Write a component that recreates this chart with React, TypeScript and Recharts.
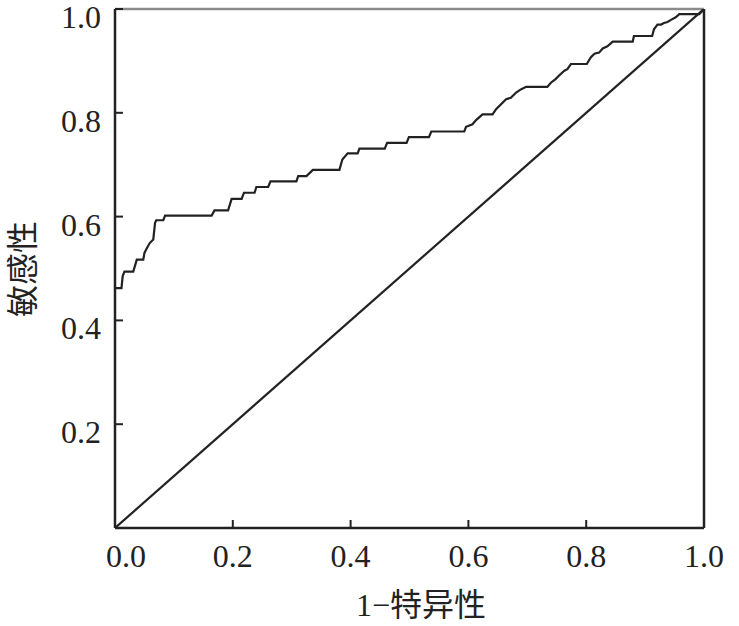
import { LineChart, Line, XAxis, YAxis, ReferenceLine, Label } from "recharts";

// ROC curve
const fpr = [
	0, 0.011, 0.013, 0.016, 0.031, 0.037, 0.048, 0.05, 0.054, 0.059, 0.065, 0.068, 0.07, 0.082, 0.085,
	0.164, 0.169, 0.192, 0.198, 0.215, 0.219, 0.237, 0.24, 0.26, 0.264, 0.308, 0.311, 0.325, 0.336,
	0.381, 0.386, 0.395, 0.412, 0.415, 0.458, 0.462, 0.495, 0.499, 0.533, 0.537, 0.593, 0.596, 0.607,
	0.613, 0.624, 0.641, 0.647, 0.655, 0.664, 0.672, 0.681, 0.689, 0.698, 0.734, 0.74, 0.748, 0.754,
	0.763, 0.768, 0.774, 0.801, 0.808, 0.814, 0.822, 0.828, 0.836, 0.845, 0.879, 0.881, 0.912, 0.915,
	0.921, 0.927, 0.932, 0.938, 0.944, 0.952, 0.958, 0.992, 1,
];
const tpr = [
	0.462, 0.462, 0.485, 0.494, 0.494, 0.517, 0.517, 0.53, 0.539, 0.549, 0.556, 0.588, 0.593, 0.593, 0.602,
	0.602, 0.612, 0.612, 0.634, 0.634, 0.646, 0.646, 0.657, 0.657, 0.668, 0.668, 0.678, 0.678, 0.69,
	0.69, 0.71, 0.722, 0.722, 0.731, 0.731, 0.742, 0.742, 0.753, 0.753, 0.764, 0.764, 0.773, 0.778,
	0.786, 0.797, 0.797, 0.807, 0.816, 0.826, 0.829, 0.839, 0.845, 0.85, 0.85, 0.858, 0.865, 0.872,
	0.881, 0.884, 0.894, 0.894, 0.907, 0.914, 0.916, 0.924, 0.928, 0.937, 0.937, 0.948, 0.948, 0.961,
	0.97, 0.97, 0.973, 0.975, 0.979, 0.984, 0.99, 0.99, 1,
];
const refX = [0, 1];
const refY = [0, 1];

const xTicks = [0, 0.2, 0.4, 0.6, 0.8, 1];
const yTicks = [0.2, 0.4, 0.6, 0.8, 1];

const rocData = fpr.map((x, i) => ({ x, y: tpr[i] }));
const diagData = refX.map((x, i) => ({ x, y: refY[i] }));

const SERIF = "'Liberation Serif', 'Times New Roman', serif";
const CJK = "'Noto Sans CJK SC', sans-serif";
const INK = "#222";

function XTick(props: any) {
	const { x, y, payload } = props;
	// first label sits a little right of its tick, as in the original
	const shift = payload.value === 0 ? 11 : 0;
	return (
		<text x={x + shift} y={y + 47} textAnchor="middle" fontSize={32} fontFamily={SERIF} fill={INK}>
			{payload.value.toFixed(1)}
		</text>
	);
}

function YTick(props: any) {
	const { x, y, payload } = props;
	return (
		<text x={x} y={y + 19} textAnchor="end" fontSize={32} fontFamily={SERIF} fill={INK}>
			{payload.value.toFixed(1)}
		</text>
	);
}

export default function App() {
	return (
		<div style={{ width: 739, height: 626 }}>
			<style>{"body{margin:0;background:#fff}"}</style>
			<LineChart width={739} height={626} margin={{ top: 9, right: 35, left: 0, bottom: 0 }}>
				<XAxis
					type="number"
					dataKey="x"
					domain={[0, 1]}
					ticks={xTicks}
					height={98}
					tickSize={-8}
					tickMargin={0}
					tick={<XTick />}
					axisLine={{ stroke: INK, strokeWidth: 2.5 }}
					tickLine={{ stroke: INK, strokeWidth: 2 }}
					allowDataOverflow
				>
					<Label
						content={() => (
							<text x={421} y={616} textAnchor="middle" fontSize={32} fill={INK}>
								<tspan fontFamily={SERIF}>1−</tspan>
								<tspan fontFamily={CJK}>特异性</tspan>
							</text>
						)}
					/>
				</XAxis>
				<YAxis
					type="number"
					dataKey="y"
					domain={[0, 1]}
					ticks={yTicks}
					width={115}
					tickSize={-8}
					tickMargin={22}
					tick={<YTick />}
					axisLine={{ stroke: INK, strokeWidth: 2.5 }}
					tickLine={{ stroke: INK, strokeWidth: 2 }}
					allowDataOverflow
				>
					<Label
						content={() => (
							<text
								x={34}
								y={269}
								textAnchor="middle"
								fontSize={32}
								fontFamily={CJK}
								fill={INK}
								transform="rotate(-90, 34, 269)"
							>
								敏感性
							</text>
						)}
					/>
				</YAxis>
				<ReferenceLine y={1} stroke="#8c8c8c" strokeWidth={2.5} />
				<ReferenceLine x={1} stroke={INK} strokeWidth={2.5} />
				<Line
					data={diagData}
					dataKey="y"
					type="linear"
					stroke={INK}
					strokeWidth={2.2}
					dot={false}
					isAnimationActive={false}
				/>
				<Line
					data={rocData}
					dataKey="y"
					type="linear"
					stroke={INK}
					strokeWidth={2.2}
					dot={false}
					isAnimationActive={false}
				/>
			</LineChart>
		</div>
	);
}
